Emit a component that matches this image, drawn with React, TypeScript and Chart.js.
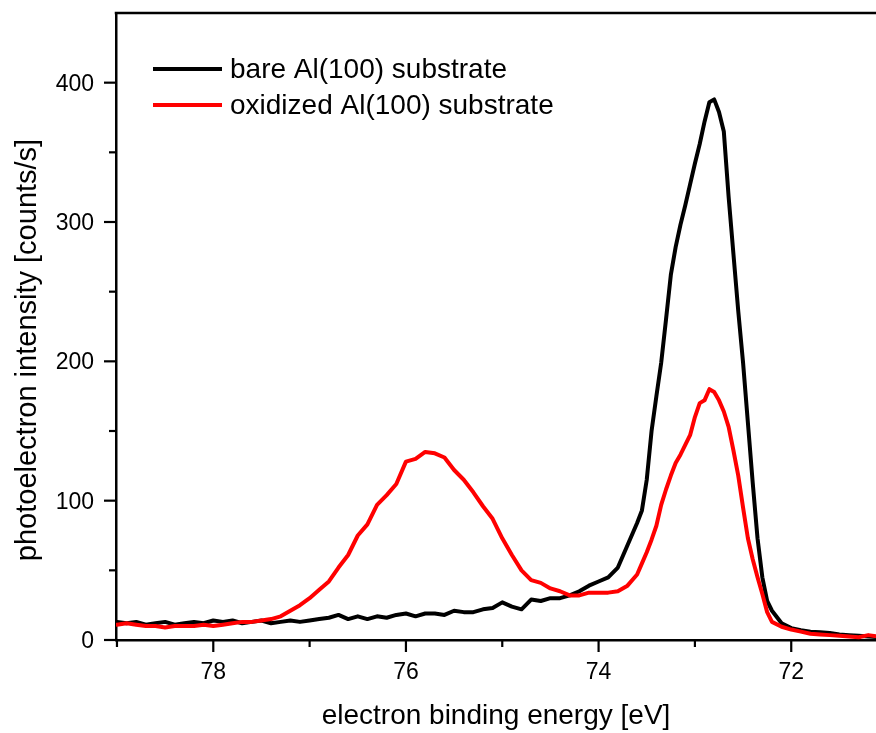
import React, { useEffect, useRef } from 'react';
import { Chart, registerables } from 'chart.js';

Chart.register(...registerables);

// Binding energies (eV)
const energies: number[] = [
  79.0, 78.9, 78.8, 78.7, 78.6, 78.5, 78.4, 78.3, 78.2, 78.1,
  78.0, 77.9, 77.8, 77.7, 77.6, 77.5, 77.4, 77.3, 77.2, 77.1,
  77.0, 76.9, 76.8, 76.7, 76.6, 76.5, 76.4, 76.3, 76.2, 76.1,
  76.0, 75.9, 75.8, 75.7, 75.6, 75.5, 75.4, 75.3, 75.2, 75.1,
  75.0, 74.9, 74.8, 74.7, 74.6, 74.5, 74.4, 74.3, 74.2, 74.1,
  74.0, 73.9, 73.8, 73.7, 73.6,
  73.55, 73.5, 73.45, 73.4, 73.35, 73.3, 73.25, 73.2, 73.15, 73.1,
  73.05, 73.0, 72.95, 72.9, 72.85, 72.8, 72.75, 72.7, 72.65, 72.6,
  72.55, 72.5, 72.45, 72.4, 72.35, 72.3, 72.25, 72.2,
  72.1, 72.0, 71.9, 71.8, 71.7, 71.6, 71.5, 71.4, 71.3, 71.2, 71.1,
];

// bare Al(100) substrate (counts/s)
const bareAl: number[] = [
  13, 12, 13, 11, 12, 13, 11, 12, 13, 12,
  14, 13, 14, 12, 13, 14, 12, 13, 14, 13,
  14, 15, 16, 18, 15, 17, 15, 17, 16, 18,
  19, 17, 19, 19, 18, 21, 20, 20, 22, 23,
  27, 24, 22, 29, 28, 30, 30, 32, 35, 39,
  42, 45, 52, 68, 84,
  93, 115, 150, 175, 199, 230, 262, 282, 298, 312,
  327, 342, 356, 372, 386, 388, 379, 365, 318, 277,
  236, 199, 156, 113, 73, 45, 28, 21,
  12, 8.5, 7, 6, 5.5, 5, 4, 3.5, 3, 2.5, 2,
];

// oxidized Al(100) substrate (counts/s)
const oxidizedAl: number[] = [
  11, 12, 11, 10, 10, 9, 10, 10, 10, 11,
  10, 11, 12, 13, 13, 14, 15, 17, 21, 25,
  30, 36, 42, 52, 61, 75, 83, 97, 104, 112,
  128, 130, 135, 134, 131, 122, 115, 106, 96, 87,
  73, 61, 50, 43, 41, 37, 35, 32, 32, 34,
  34, 34, 35, 39, 47,
  55, 63, 72, 82, 97, 108, 118, 127, 133, 140,
  147, 160, 170, 172, 180, 178, 172, 164, 153, 136,
  118, 95, 73, 58, 45, 33, 20, 13,
  9.5, 7.5, 6, 4.5, 4, 3.5, 3, 2.5, 2, 3.5, 2.5,
];

const seriesLabels: string[] = ['bare Al(100) substrate', 'oxidized Al(100) substrate'];
const seriesColors: string[] = ['#000000', '#ff0000'];

const xTicksAll: number[] = [79, 78, 77, 76, 75, 74, 73, 72];
const xTicksMajor: number[] = [78, 76, 74, 72];
const yTicksAll: number[] = [0, 50, 100, 150, 200, 250, 300, 350, 400];
const yTicksMajor: number[] = [0, 100, 200, 300, 400];

const xTitle = 'electron binding energy [eV]';
const yTitle = 'photoelectron intensity [counts/s]';

const FONT = "'Liberation Sans', Arial, Helvetica, sans-serif";
const TICK_SIZE = 23;
const LINE_W = 4;

export default function App() {
  const canvasRef = useRef<HTMLCanvasElement | null>(null);

  useEffect(() => {
    const canvas = canvasRef.current;
    if (!canvas) return;

    (Chart.defaults as any).elements.line.borderWidth = LINE_W;
    (Chart.defaults as any).elements.line.borderCapStyle = 'round';
    (Chart.defaults as any).elements.line.borderJoinStyle = 'round';

    const decorPlugin = {
      id: 'decor',
      afterDraw(chart: any) {
        const { ctx, chartArea, scales } = chart;
        const xs = scales.x;
        const ys = scales.y;
        ctx.save();
        ctx.strokeStyle = '#000';
        ctx.fillStyle = '#000';
        ctx.lineCap = 'butt';
        // top frame line
        ctx.lineWidth = 2.5;
        ctx.beginPath();
        ctx.moveTo(chartArea.left - 1.25, chartArea.top);
        ctx.lineTo(chart.width, chartArea.top);
        ctx.stroke();
        // ticks (major 12px, minor 7px, outward)
        ctx.lineWidth = 2.2;
        xTicksAll.forEach((v) => {
          const px = xs.getPixelForValue(v);
          const len = xTicksMajor.includes(v) ? 12 : 7;
          ctx.beginPath();
          ctx.moveTo(px, chartArea.bottom);
          ctx.lineTo(px, chartArea.bottom + len);
          ctx.stroke();
        });
        yTicksAll.forEach((v) => {
          const py = ys.getPixelForValue(v);
          const len = yTicksMajor.includes(v) ? 12 : 7;
          ctx.beginPath();
          ctx.moveTo(chartArea.left, py);
          ctx.lineTo(chartArea.left - len, py);
          ctx.stroke();
        });
        // tick labels
        ctx.font = `${TICK_SIZE}px ${FONT}`;
        ctx.textBaseline = 'alphabetic';
        ctx.textAlign = 'center';
        xTicksMajor.forEach((v) => {
          ctx.fillText(String(v), xs.getPixelForValue(v), 679);
        });
        ctx.textAlign = 'right';
        yTicksMajor.forEach((v) => {
          ctx.fillText(String(v), 94, ys.getPixelForValue(v) + 8);
        });
        // y axis title
        ctx.font = `29px ${FONT}`;
        ctx.textAlign = 'center';
        ctx.save();
        ctx.translate(36, 350);
        ctx.rotate(-Math.PI / 2);
        ctx.fillText(yTitle, 0, 0);
        ctx.restore();
        // legend
        const rows = [69, 105];
        ctx.font = `28px ${FONT}`;
        ctx.textAlign = 'left';
        seriesLabels.forEach((label, i) => {
          ctx.strokeStyle = seriesColors[i];
          ctx.lineWidth = 4.2;
          ctx.beginPath();
          ctx.moveTo(153, rows[i]);
          ctx.lineTo(222, rows[i]);
          ctx.stroke();
          ctx.fillText(label, 230, rows[i] + 8.7);
        });
        ctx.restore();
      },
    };

    const chart = new Chart(canvas, {
      type: 'line',
      data: {
        datasets: [
          {
            label: seriesLabels[0],
            data: energies.map((e, i) => ({ x: e, y: bareAl[i] })),
            borderColor: seriesColors[0],
            backgroundColor: seriesColors[0],
            borderWidth: LINE_W,
            borderJoinStyle: 'round',
            pointRadius: 0,
            tension: 0,
            order: 1,
          },
          {
            label: seriesLabels[1],
            data: energies.map((e, i) => ({ x: e, y: oxidizedAl[i] })),
            borderColor: seriesColors[1],
            backgroundColor: seriesColors[1],
            borderWidth: LINE_W,
            borderJoinStyle: 'round',
            pointRadius: 0,
            tension: 0,
            order: 0,
          },
        ],
      },
      options: {
        animation: false,
        responsive: false,
        maintainAspectRatio: false,
        layout: { padding: { top: 13, right: 0, bottom: 0, left: 0 } },
        elements: { line: { borderWidth: LINE_W } },
        plugins: {
          legend: { display: false },
          tooltip: { enabled: false },
          title: { display: false },
        },
        scales: {
          x: {
            type: 'linear',
            reverse: true,
            min: 71.12,
            max: 79.01,
            afterBuildTicks: (s: any) => {
              s.ticks = xTicksAll.map((v) => ({ value: v }));
            },
            afterFit: (s: any) => {
              s.height = 93;
            },
            ticks: { display: false },
            grid: { display: false, drawOnChartArea: false, drawTicks: false },
            border: { display: true, color: '#000', width: 2.5 },
            title: {
              display: true,
              text: xTitle,
              color: '#000',
              font: { family: FONT, size: 28 },
              padding: { top: 0, bottom: 0 },
            },
          },
          y: {
            type: 'linear',
            min: 0,
            max: 450,
            afterBuildTicks: (s: any) => {
              s.ticks = yTicksAll.map((v) => ({ value: v }));
            },
            afterFit: (s: any) => {
              s.width = 116;
            },
            ticks: { display: false },
            grid: { display: false, drawOnChartArea: false, drawTicks: false },
            border: { display: true, color: '#000', width: 2.5 },
            title: { display: false },
          },
        },
      },
      plugins: [decorPlugin],
    });

    return () => {
      chart.destroy();
    };
  }, []);

  return (
    <div
      style={{
        position: 'fixed',
        left: 0,
        top: 0,
        width: 876,
        height: 733,
        background: '#ffffff',
      }}
    >
      <canvas ref={canvasRef} width={876} height={733} style={{ display: 'block', width: 876, height: 733 }} />
    </div>
  );
}
